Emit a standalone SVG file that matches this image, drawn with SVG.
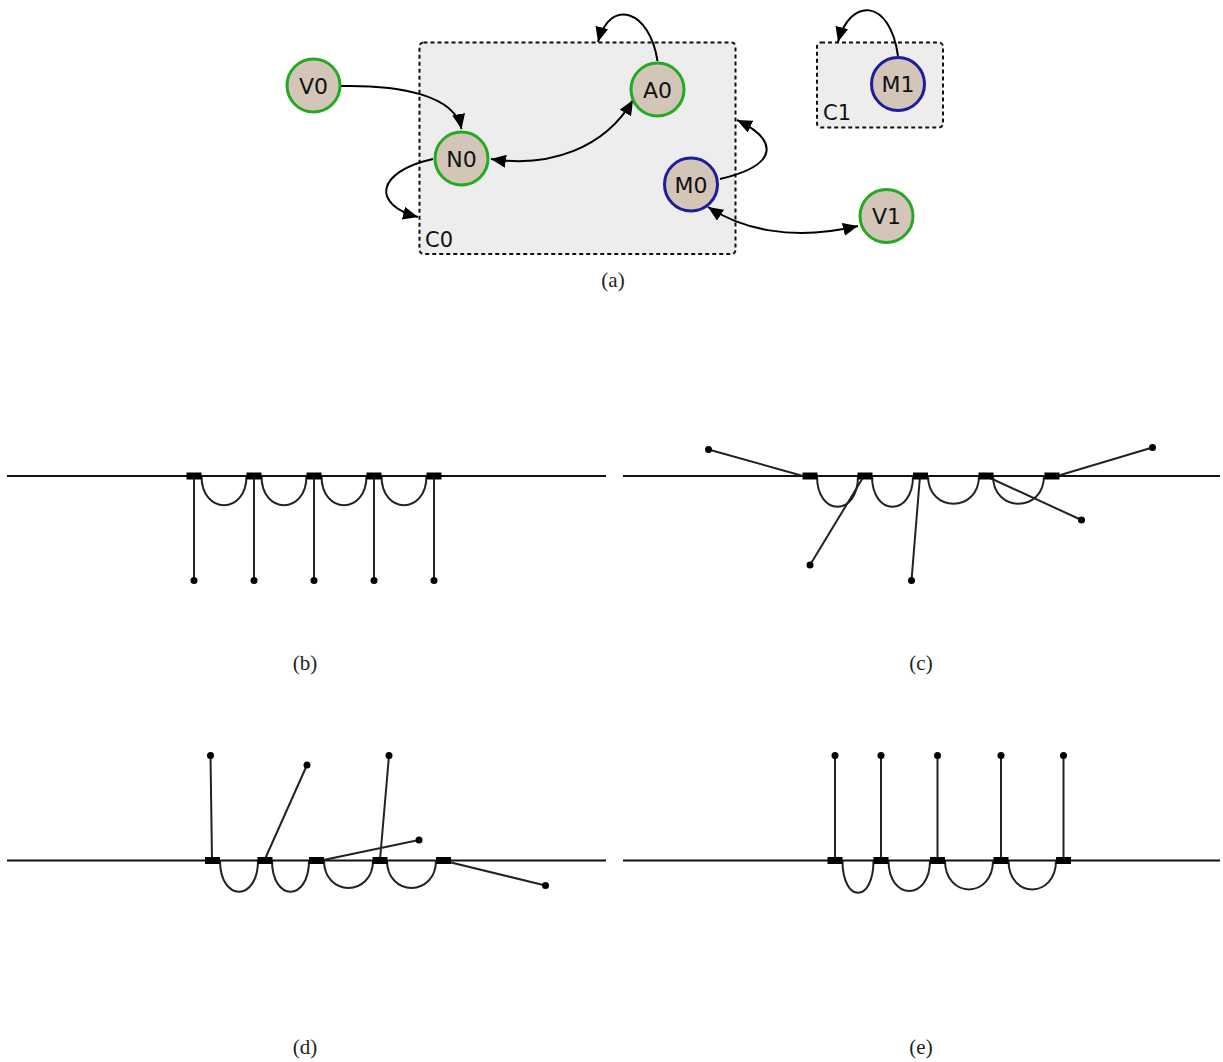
<svg xmlns="http://www.w3.org/2000/svg" width="1223" height="1062" viewBox="0 0 1223 1062">
<style>
.cluster{fill:#ededed;stroke:#111;stroke-width:2;stroke-dasharray:4,3}
.node{fill:#d3c6b8;stroke-width:3}
.g{stroke:#22aa22}
.b{stroke:#1c1c9c}
.nl{font-family:"DejaVu Sans",sans-serif;font-size:22px;fill:#111;text-anchor:middle}
.cl{font-family:"DejaVu Sans",sans-serif;font-size:21px;fill:#111}
.edge{fill:none;stroke:#000;stroke-width:2}
.cap{font-family:"Liberation Serif",serif;font-size:21px;fill:#222;text-anchor:middle}
.base{stroke:#111;stroke-width:2}
.seg{fill:none;stroke:#222;stroke-width:2}
.arc{fill:none;stroke:#222;stroke-width:2}
.pin{fill:#000}
.dot{fill:#000}
</style>
<defs>
<marker id="ah" viewBox="0 0 15 13" refX="15" refY="6.5" markerWidth="15" markerHeight="13" markerUnits="userSpaceOnUse" orient="auto-start-reverse">
<path d="M0,0 L15,6.5 L0,13 z" fill="#000"/>
</marker>
</defs>

<!-- Panel (a) -->
<g id="C0"><rect class="cluster" x="419.5" y="42.5" width="316" height="211.5" rx="4"/><text class="cl" x="425" y="247">C0</text></g>
<g id="C1"><rect class="cluster" x="817" y="42.5" width="126" height="85" rx="4"/><text class="cl" x="823" y="120">C1</text></g>

<g id="edges-a">
<path class="edge" d="M341,86 C400,85 455,95 461.5,129" marker-end="url(#ah)"/>
<path class="edge" d="M491,159 C550,168 605,148 633,100" marker-start="url(#ah)" marker-end="url(#ah)"/>
<path class="edge" d="M433,159 C375,172 372,205 418,217" marker-end="url(#ah)"/>
<path class="edge" d="M657.5,61 C650,10 610,-3 598,42" marker-end="url(#ah)"/>
<path class="edge" d="M720,179 C780,165 778,140 737,120" marker-end="url(#ah)"/>
<path class="edge" d="M708,207 C740,228 790,242 858,226" marker-start="url(#ah)" marker-end="url(#ah)"/>
<path class="edge" d="M898,56 C890,-2 850,-3 838,42" marker-end="url(#ah)"/>
</g>

<g id="V0"><circle class="node g" cx="313.5" cy="85.5" r="26.5"/><text class="nl" x="313.5" y="93.5">V0</text></g>
<g id="N0"><circle class="node g" cx="461.5" cy="158.5" r="26.5"/><text class="nl" x="461.5" y="166.5">N0</text></g>
<g id="A0"><circle class="node g" cx="657.5" cy="89.5" r="26.5"/><text class="nl" x="657.5" y="97.5">A0</text></g>
<g id="M0"><circle class="node b" cx="691" cy="184.5" r="26.5"/><text class="nl" x="691" y="192.5">M0</text></g>
<g id="V1"><circle class="node g" cx="886.5" cy="216" r="26.5"/><text class="nl" x="886.5" y="224">V1</text></g>
<g id="M1"><circle class="node b" cx="898" cy="84" r="26.5"/><text class="nl" x="898" y="92">M1</text></g>
<text class="cap" x="613" y="287">(a)</text>

<!-- Panel (b) -->
<g id="panel-b">
<line class="base" x1="7" y1="476" x2="606" y2="476"/>
<path class="arc" d="M201.5,476 C201.5,515 246.5,515 246.5,476 M261.5,476 C261.5,515 306.5,515 306.5,476 M321.5,476 C321.5,515 366.5,515 366.5,476 M381.5,476 C381.5,515 426.5,515 426.5,476"/>
<path class="seg" d="M194,476 V580 M254,476 V580 M314,476 V580 M374,476 V580 M434,476 V580"/>
<g class="pin"><rect x="186.5" y="472.5" width="15" height="7"/><rect x="246.5" y="472.5" width="15" height="7"/><rect x="306.5" y="472.5" width="15" height="7"/><rect x="366.5" y="472.5" width="15" height="7"/><rect x="426.5" y="472.5" width="15" height="7"/></g>
<g class="dot"><circle cx="194" cy="580.5" r="3.5"/><circle cx="254" cy="580.5" r="3.5"/><circle cx="314" cy="580.5" r="3.5"/><circle cx="374" cy="580.5" r="3.5"/><circle cx="434" cy="580.5" r="3.5"/></g>
<text class="cap" x="305" y="670">(b)</text>
</g>

<!-- Panel (c) -->
<g id="panel-c">
<line class="base" x1="623" y1="476" x2="1220" y2="476"/>
<path class="arc" d="M817,476 C817,517 858,517 858,476 M872,476 C872,517 913,517 913,476 M928,476 C928,513 979,513 979,476 M993,476 C993,513 1044,513 1044,476"/>
<path class="seg" d="M803,476 L708.5,449.5 M864,476 L810,565 M920,476 L911.5,580.5 M990,478 L1081.5,520 M1057,476 L1152.5,447.5"/>
<g class="pin"><rect x="802.5" y="472.5" width="15" height="7"/><rect x="857.5" y="472.5" width="15" height="7"/><rect x="913" y="472.5" width="15" height="7"/><rect x="978.5" y="472.5" width="15" height="7"/><rect x="1044.5" y="472.5" width="15" height="7"/></g>
<g class="dot"><circle cx="708.5" cy="449.5" r="3.5"/><circle cx="810" cy="565" r="3.5"/><circle cx="911.5" cy="580.5" r="3.5"/><circle cx="1081.5" cy="520" r="3.5"/><circle cx="1152.5" cy="447.5" r="3.5"/></g>
<text class="cap" x="921" y="670">(c)</text>
</g>

<!-- Panel (d) -->
<g id="panel-d">
<line class="base" x1="7" y1="860.5" x2="606" y2="860.5"/>
<path class="arc" d="M220,860.5 C220,902 258,902 258,860.5 M272,860.5 C272,902 309,902 309,860.5 M324,860.5 C324,897 373,897 373,860.5 M387,860.5 C387,897 436,897 436,860.5"/>
<path class="seg" d="M212,860 L210.5,755.5 M265,859 L307,765 M321,860.5 L419,840 M380,860 L389,755.5 M449,862 L545.5,885.5"/>
<g class="pin"><rect x="205" y="857" width="15" height="7"/><rect x="257.5" y="857" width="15" height="7"/><rect x="309" y="857" width="15" height="7"/><rect x="372.5" y="857" width="15" height="7"/><rect x="436" y="857" width="15" height="7"/></g>
<g class="dot"><circle cx="210.5" cy="755.5" r="3.5"/><circle cx="307" cy="765" r="3.5"/><circle cx="389" cy="755.5" r="3.5"/><circle cx="419" cy="840" r="3.5"/><circle cx="545.5" cy="885.5" r="3.5"/></g>
<text class="cap" x="305" y="1054">(d)</text>
</g>

<!-- Panel (e) -->
<g id="panel-e">
<line class="base" x1="623" y1="860.5" x2="1220" y2="860.5"/>
<path class="arc" d="M842.5,860.5 C842.5,903.5 873.5,903.5 873.5,860.5 M888.5,860.5 C888.5,901 930,901 930,860.5 M945,860.5 C945,899 993,899 993,860.5 M1008.5,860.5 C1008.5,899 1056,899 1056,860.5"/>
<path class="seg" d="M835,860 V755.5 M881,860 V755.5 M937.5,860 V755.5 M1001,860 V755.5 M1063.5,860 V755.5"/>
<g class="pin"><rect x="827.5" y="857" width="15" height="7"/><rect x="873.5" y="857" width="15" height="7"/><rect x="930" y="857" width="15" height="7"/><rect x="993.5" y="857" width="15" height="7"/><rect x="1056" y="857" width="15" height="7"/></g>
<g class="dot"><circle cx="835" cy="755.5" r="3.5"/><circle cx="881" cy="755.5" r="3.5"/><circle cx="937.5" cy="755.5" r="3.5"/><circle cx="1001" cy="755.5" r="3.5"/><circle cx="1063.5" cy="755.5" r="3.5"/></g>
<text class="cap" x="921" y="1054">(e)</text>
</g>
</svg>
